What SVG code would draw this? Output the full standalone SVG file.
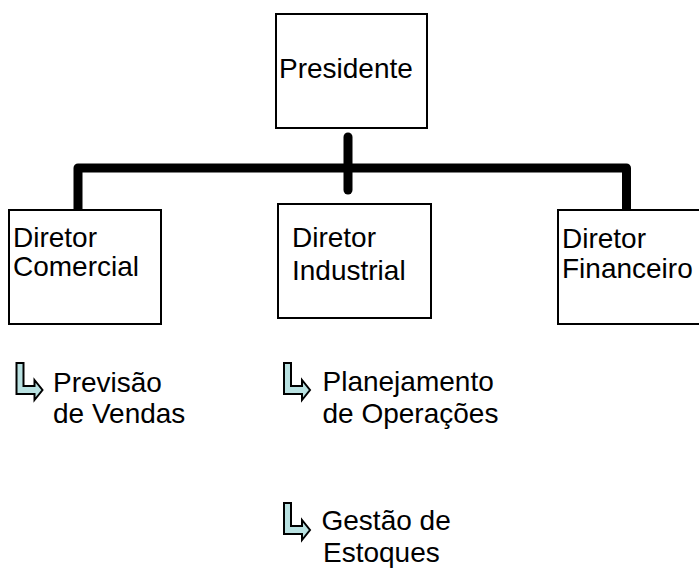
<svg xmlns="http://www.w3.org/2000/svg" width="699" height="571" viewBox="0 0 699 571">
<style>
.box{fill:#fff;stroke:#000;stroke-width:2}
.t{font-family:"Liberation Sans",Arial,sans-serif;font-size:28px;fill:#000}
.conn{fill:none;stroke:#000;stroke-width:9;stroke-linecap:round;stroke-linejoin:round}
.ic{fill:#b9e1e1;stroke:#000;stroke-width:2;stroke-linejoin:miter}
</style>
<defs>
<path id="bul" class="ic" d="M0,0 H7 V23 H18 V17 L26,27 L18,37 V31 H0 Z"/>
</defs>
<rect width="699" height="571" fill="#fff"/>
<g id="connectors">
<path class="conn" d="M78,213 V168 H626.5 V215"/>
<path class="conn" d="M348,137 V190"/>
</g>
<g id="presidente">
<rect class="box" x="276" y="14" width="151" height="114"/>
<text class="t" x="279" y="78">Presidente</text>
</g>
<g id="dir-comercial">
<rect class="box" x="9" y="210" width="152" height="114"/>
<text class="t" x="13" y="247">Diretor</text>
<text class="t" x="13" y="276">Comercial</text>
</g>
<g id="dir-industrial">
<rect class="box" x="278" y="204" width="153" height="114"/>
<text class="t" x="292" y="247">Diretor</text>
<text class="t" x="292" y="280">Industrial</text>
</g>
<g id="dir-financeiro">
<rect class="box" x="558" y="210" width="150" height="114"/>
<text class="t" x="562" y="248">Diretor</text>
<text class="t" x="562" y="278">Financeiro</text>
</g>
<g id="previsao">
<use href="#bul" x="16.5" y="363"/>
<text class="t" x="53" y="392">Previsão</text>
<text class="t" x="53" y="423">de Vendas</text>
</g>
<g id="planejamento">
<use href="#bul" x="284" y="363"/>
<text class="t" x="322.5" y="391">Planejamento</text>
<text class="t" x="322.5" y="423">de Operações</text>
</g>
<g id="gestao">
<use href="#bul" x="284" y="503"/>
<text class="t" x="321.5" y="530">Gestão de</text>
<text class="t" x="323" y="562">Estoques</text>
</g>
</svg>
